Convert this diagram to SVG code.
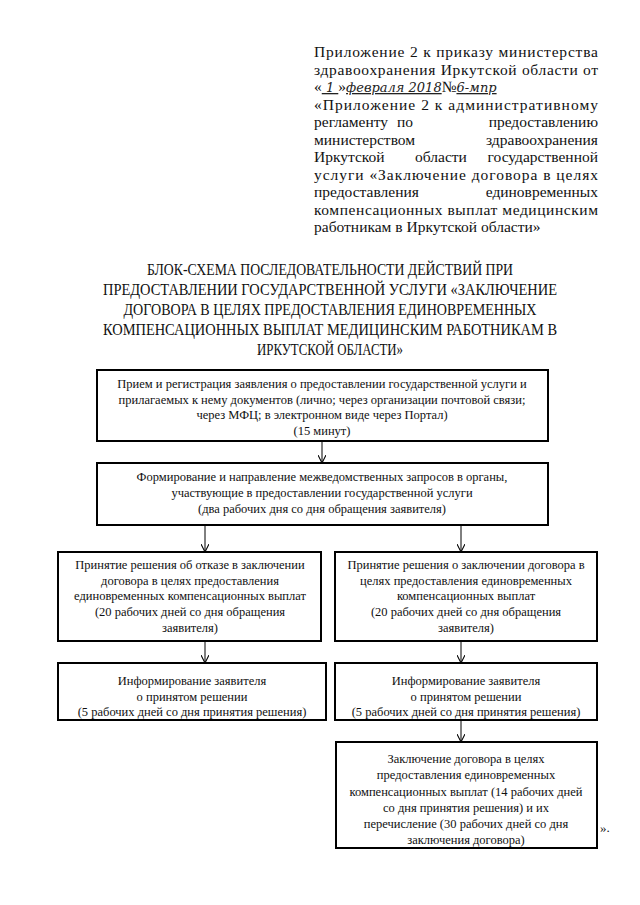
<svg xmlns="http://www.w3.org/2000/svg" width="640" height="905" viewBox="0 0 640 905">
<defs>
<style>
.t{font-family:"Liberation Serif","Times New Roman",serif;fill:#111;}
.h{font-size:15.5px;}
.ti{font-size:16px;text-anchor:middle;}
.b{font-size:12.5px;text-anchor:middle;}
.hw{font-family:"DejaVu Serif","Liberation Serif",serif;font-style:italic;font-size:13px;fill:#222;}
.box{fill:#fff;stroke:#000;stroke-width:2;}
.con{stroke:#000;stroke-width:1;fill:none;}
</style>
<marker id="arr" viewBox="0 0 10 10" refX="10" refY="5" markerWidth="8" markerHeight="8" orient="auto" markerUnits="userSpaceOnUse">
<path d="M0,0 L10,5 L0,10" fill="none" stroke="#000" stroke-width="1.3"/>
</marker>
</defs>
<rect width="640" height="905" fill="#fff"/>

<g id="header" class="t h">
<text x="314" y="57" textLength="284" lengthAdjust="spacing">Приложение 2 к приказу министерства</text>
<text x="314" y="74.5" textLength="284" lengthAdjust="spacing">здравоохранения Иркутской области от</text>
<text x="314" y="92">«<tspan class="hw" text-decoration="underline"> 1 </tspan>»<tspan class="hw" text-decoration="underline">февраля 2018</tspan>№<tspan class="hw" text-decoration="underline">6-мпр</tspan></text>
<text x="314" y="109.5" textLength="284" lengthAdjust="spacing">«Приложение 2 к административному</text>
<text x="314" y="127">регламенту</text><text x="405" y="127" text-anchor="middle">по</text><text x="598" y="127" text-anchor="end">предоставлению</text>
<text x="314" y="144.5">министерством</text><text x="598" y="144.5" text-anchor="end">здравоохранения</text>
<text x="314" y="162">Иркутской</text><text x="441" y="162" text-anchor="middle">области</text><text x="598" y="162" text-anchor="end">государственной</text>
<text x="314" y="179.5" textLength="284" lengthAdjust="spacing">услуги «Заключение договора в целях</text>
<text x="314" y="197">предоставления</text><text x="598" y="197" text-anchor="end">единовременных</text>
<text x="314" y="214.5" textLength="284" lengthAdjust="spacing">компенсационных выплат медицинским</text>
<text x="314" y="232">работникам в Иркутской области»</text>
</g>

<g id="title" class="t ti">
<text x="330" y="275" textLength="366" lengthAdjust="spacingAndGlyphs">БЛОК-СХЕМА ПОСЛЕДОВАТЕЛЬНОСТИ ДЕЙСТВИЙ ПРИ</text>
<text x="330" y="295" textLength="454" lengthAdjust="spacingAndGlyphs">ПРЕДОСТАВЛЕНИИ ГОСУДАРСТВЕННОЙ УСЛУГИ «ЗАКЛЮЧЕНИЕ</text>
<text x="330" y="315" textLength="413" lengthAdjust="spacingAndGlyphs">ДОГОВОРА В ЦЕЛЯХ ПРЕДОСТАВЛЕНИЯ ЕДИНОВРЕМЕННЫХ</text>
<text x="330" y="335" textLength="454" lengthAdjust="spacingAndGlyphs">КОМПЕНСАЦИОННЫХ ВЫПЛАТ МЕДИЦИНСКИМ РАБОТНИКАМ В</text>
<text x="330" y="355" textLength="146" lengthAdjust="spacingAndGlyphs">ИРКУТСКОЙ ОБЛАСТИ»</text>
</g>

<g id="connectors">
<line class="con" x1="322" y1="441" x2="322" y2="463" marker-end="url(#arr)"/>
<line class="con" x1="205" y1="525" x2="205" y2="552" marker-end="url(#arr)"/>
<line class="con" x1="461" y1="525" x2="461" y2="552" marker-end="url(#arr)"/>
<line class="con" x1="205" y1="641" x2="205" y2="663" marker-end="url(#arr)"/>
<line class="con" x1="461" y1="641" x2="461" y2="663" marker-end="url(#arr)"/>
<line class="con" x1="461" y1="720" x2="461" y2="742" marker-end="url(#arr)"/>
</g>

<g id="n1">
<rect class="box" x="97" y="370" width="451" height="71"/>
<g class="t b">
<text x="322" y="388">Прием и регистрация заявления о предоставлении государственной услуги и</text>
<text x="322" y="404">прилагаемых к нему документов (лично; через организации почтовой связи;</text>
<text x="322" y="419">через МФЦ; в электронном виде через Портал)</text>
<text x="322" y="435">(15 минут)</text>
</g>
</g>

<g id="n2">
<rect class="box" x="97" y="463" width="451" height="62"/>
<g class="t b">
<text x="322" y="481">Формирование и направление межведомственных запросов в органы,</text>
<text x="322" y="497">участвующие в предоставлении государственной услуги</text>
<text x="322" y="513">(два рабочих дня со дня обращения заявителя)</text>
</g>
</g>

<g id="n3">
<rect class="box" x="58" y="552" width="263" height="89"/>
<g class="t b">
<text x="190" y="569">Принятие решения об отказе в заключении</text>
<text x="190" y="585">договора в целях предоставления</text>
<text x="190" y="600">единовременных компенсационных выплат</text>
<text x="190" y="616">(20 рабочих дней со дня обращения</text>
<text x="190" y="632">заявителя)</text>
</g>
</g>

<g id="n4">
<rect class="box" x="335" y="552" width="262" height="89"/>
<g class="t b">
<text x="466" y="569">Принятие решения о заключении договора в</text>
<text x="466" y="585">целях предоставления единовременных</text>
<text x="466" y="600">компенсационных выплат</text>
<text x="466" y="616">(20 рабочих дней со дня обращения</text>
<text x="466" y="632">заявителя)</text>
</g>
</g>

<g id="n5">
<rect class="box" x="58" y="663" width="268" height="57"/>
<g class="t b">
<text x="192" y="685">Информирование заявителя</text>
<text x="192" y="701">о принятом решении</text>
<text x="192" y="716">(5 рабочих дней со дня принятия решения)</text>
</g>
</g>

<g id="n6">
<rect class="box" x="335" y="663" width="262" height="57"/>
<g class="t b">
<text x="466" y="685">Информирование заявителя</text>
<text x="466" y="701">о принятом решении</text>
<text x="466" y="716">(5 рабочих дней со дня принятия решения)</text>
</g>
</g>

<g id="n7">
<rect class="box" x="336" y="742" width="261" height="106"/>
<g class="t b">
<text x="466" y="763">Заключение договора в целях</text>
<text x="466" y="779">предоставления единовременных</text>
<text x="466" y="796">компенсационных выплат (14 рабочих дней</text>
<text x="466" y="812">со дня принятия решения) и их</text>
<text x="466" y="828">перечисление (30 рабочих дней со дня</text>
<text x="466" y="844">заключения договора)</text>
</g>
</g>

<text class="t" x="600" y="832" font-size="13">».</text>
</svg>
